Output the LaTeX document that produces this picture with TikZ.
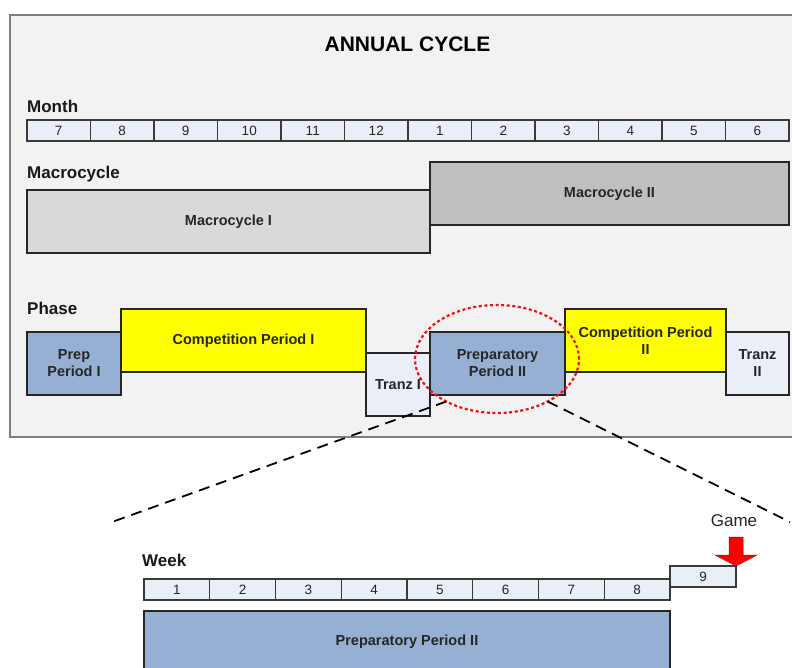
\documentclass[tikz,border=0pt]{standalone}
\usepackage{fontspec}
\setmainfont{Liberation Sans}
\usetikzlibrary{positioning,shapes.geometric}
\definecolor{panelgray}{HTML}{F2F2F2}
\definecolor{panelline}{HTML}{808080}
\definecolor{cellblue}{HTML}{E9EEF7}
\definecolor{phaseblue}{HTML}{95B0D3}
\definecolor{compyellow}{HTML}{FFFF00}
\definecolor{macrolight}{HTML}{D9D9D9}
\definecolor{macrodark}{HTML}{BFBFBF}
\definecolor{edgegray}{HTML}{3A3A3A}
\definecolor{inkgray}{HTML}{262626}
\definecolor{ringred}{HTML}{EE1111}
\definecolor{gamered}{HTML}{FF0000}
\tikzset{
  cell/.style={rectangle,draw=edgegray,fill=cellblue,line width=1.1pt,
    minimum height=21pt,inner sep=0pt,outer sep=0pt,text=inkgray,
    font=\fontsize{13.5}{15}\selectfont},
  blk/.style={rectangle,draw=inkgray,line width=1.3pt,minimum height=63pt,
    inner sep=0pt,outer sep=0pt,align=center,text=inkgray,
    font=\fontsize{14.5}{17}\selectfont\bfseries},
  lbl/.style={inner sep=0pt,anchor=base west,text=black!90,
    font=\fontsize{17}{20}\selectfont\bfseries},
  zoomline/.style={dash pattern=on 11pt off 7pt,line width=1.8pt,black},
}

\begin{document}
\begin{tikzpicture}[x=1pt,y=-1pt]
\useasboundingbox (0,0) rectangle (792,667);
\clip (0,0) rectangle (792,667);

% annual cycle panel
\draw[draw=panelline,fill=panelgray,line width=1.4pt] (10,15) rectangle (810,437);
\node[inner sep=0pt,anchor=base,font=\fontsize{21}{24}\selectfont\bfseries] (title) at (407.5,51) {ANNUAL CYCLE};

% months
\node[lbl] (monthlbl) at (27,112) {Month};
\foreach \m [count=\i] in {7,8,9,10,11,12,1,2,3,4,5,6}
  \node[cell,minimum width=63.5pt] (m\i) at ({27+63.5*(\i-0.5)},130.5) {\m};

% macrocycles
\node[lbl] (macrolbl) at (27,178) {Macrocycle};
\node[blk,fill=macrolight,minimum width=403pt] (mac1) at (228.5,221.5) {Macrocycle I};
\node[blk,fill=macrodark,minimum width=359pt] (mac2) at (609.5,193.5) {Macrocycle II};

% phases
\node[lbl] (phaselbl) at (27,314) {Phase};
\node[blk,fill=phaseblue,minimum width=94pt] (prep1) at (74,363.5) {Prep\\Period I};
\node[blk,fill=compyellow,minimum width=245pt] (comp1) at (243.5,340.5) {Competition Period I};
\node[blk,fill=cellblue,minimum width=64pt] (tranz1) at (398,384.5) {Tranz I};
\node[blk,fill=phaseblue,minimum width=135pt] (prep2) at (497.5,363.5) {Preparatory\\Period II};
\node[blk,fill=compyellow,minimum width=161pt] (comp2) at (645.5,340.5) {Competition Period\\II};
\node[blk,fill=cellblue,minimum width=63pt] (tranz2) at (757.5,363.5) {Tranz\\II};

% zoom onto preparatory period II
\node[ellipse,draw=ringred,line width=2.2pt,dash pattern=on 3pt off 2.6pt,
  minimum width=164pt,minimum height=108pt,inner sep=0pt,outer sep=0pt] (ring) at (497,359) {};
\coordinate (zl) at (112,522);
\coordinate (zr) at (790,522);
\draw[zoomline] (ring.220) -- (zl);
\draw[zoomline] (ring.320) -- (zr);

% weeks
\node[lbl] (weeklbl) at (142,566) {Week};
\foreach \w in {1,...,8}
  \node[cell,minimum width=65.75pt] (w\w) at ({144+65.75*(\w-0.5)},589.5) {\w};
\node[cell,minimum width=66pt] (w9) at (703,576.5) {9};
\node[blk,fill=phaseblue,minimum width=526pt,minimum height=62pt,anchor=north] (prepbig) at (407,611) {Preparatory Period II};

% game marker
\node[inner sep=0pt,text=inkgray,font=\fontsize{17}{20}\selectfont] (game) at (734,521) {Game};
\filldraw[fill=gamered,draw=red!75!black,line width=0.5pt] (w9.north east) -- ++(-21,-11)
  -- ++(14,0) -- ++(0,-18) -- ++(14,0) -- ++(0,18) -- ++(14,0) -- cycle;
\end{tikzpicture}
\end{document}
